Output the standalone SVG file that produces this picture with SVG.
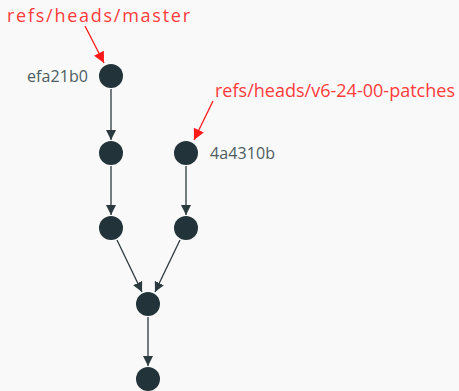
<svg xmlns="http://www.w3.org/2000/svg" width="459" height="391" viewBox="0 0 459 391">
  <defs>
    <marker id="arr" viewBox="0 0 10 10" refX="10" refY="5" markerWidth="10" markerHeight="10" markerUnits="userSpaceOnUse" orient="auto">
      <path d="M0,0 L10,5 L0,10 z" fill="#2b3a3f"/>
    </marker>
    <marker id="arrRed" viewBox="0 0 10 10" refX="10" refY="5" markerWidth="11" markerHeight="11" markerUnits="userSpaceOnUse" orient="auto">
      <path d="M0,0 L10,5 L0,10 z" fill="#ff1a1a"/>
    </marker>
  </defs>
  <style>
    .commit { fill: #22343a; }
    .edge { stroke: #2b3a3f; stroke-width: 1.3; fill: none; marker-end: url(#arr); }
    .ref { stroke: #ff1a1a; stroke-width: 1.3; fill: none; marker-end: url(#arrRed); }
    .hash { font-family: "Open Sans", "Noto Sans", sans-serif; font-size: 16px; fill: #4d5d62; }
    .label { font-family: "Open Sans", "Noto Sans", sans-serif; font-size: 18px; fill: #ff3b3b; }
  </style>
  <rect width="459" height="391" fill="#f9f9f9"/>

  <g id="connectors">
    <line class="edge" x1="111" y1="89" x2="111" y2="140"/>
    <line class="edge" x1="111" y1="166" x2="111" y2="215"/>
    <line class="edge" x1="186" y1="166" x2="186" y2="215"/>
    <line class="edge" x1="117" y1="240" x2="142" y2="292"/>
    <line class="edge" x1="180" y1="240" x2="155" y2="292"/>
    <line class="edge" x1="148" y1="317" x2="148" y2="366"/>
    <line class="ref" x1="85" y1="26" x2="104" y2="63"/>
    <line class="ref" x1="213" y1="101" x2="194" y2="140"/>
  </g>

  <g id="master-ref">
    <text class="label" x="7" y="22" textLength="183" lengthAdjust="spacing">refs/heads/master</text>
  </g>
  <g id="patches-ref">
    <text class="label" x="215" y="97" textLength="240" lengthAdjust="spacing">refs/heads/v6-24-00-patches</text>
  </g>

  <g id="efa21b0">
    <circle class="commit" cx="111" cy="76" r="12"/>
    <text class="hash" x="27" y="82" textLength="61" lengthAdjust="spacing">efa21b0</text>
  </g>
  <g id="c2">
    <circle class="commit" cx="111" cy="153" r="12"/>
  </g>
  <g id="c3">
    <circle class="commit" cx="111" cy="228" r="12"/>
  </g>
  <g id="4a4310b">
    <circle class="commit" cx="186" cy="153" r="12"/>
    <text class="hash" x="210" y="159" textLength="65" lengthAdjust="spacing">4a4310b</text>
  </g>
  <g id="c5">
    <circle class="commit" cx="186" cy="228" r="12"/>
  </g>
  <g id="merge-base">
    <circle class="commit" cx="148" cy="304" r="12"/>
  </g>
  <g id="root">
    <circle class="commit" cx="148" cy="379" r="12"/>
  </g>
</svg>
